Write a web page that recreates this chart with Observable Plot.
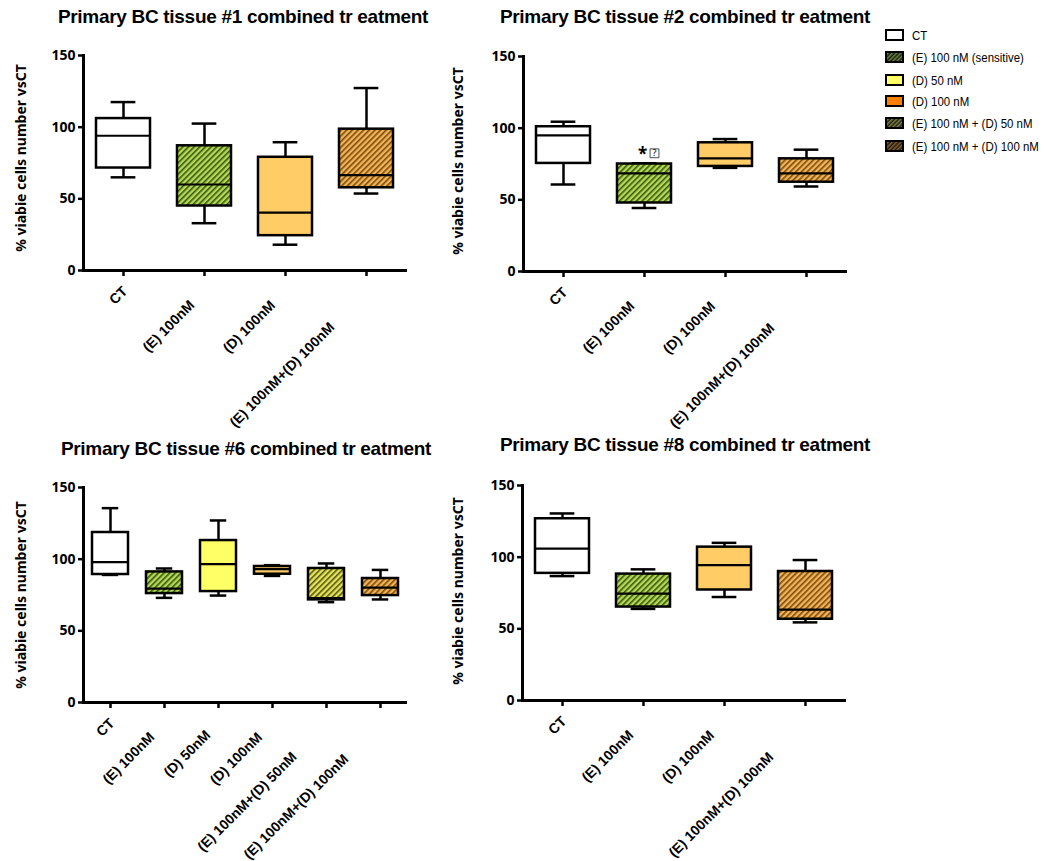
<!DOCTYPE html>
<html>
<head>
<meta charset="utf-8">
<script src="https://cdn.jsdelivr.net/npm/d3@7"></script>
<script src="https://cdn.jsdelivr.net/npm/@observablehq/plot@0.6"></script>
<style>
  body { margin: 0; background: #fff; }
  #page { position: relative; width: 1049px; height: 861px; overflow: hidden; background: #fff;
          font-family: "Liberation Sans", Arial, sans-serif; color: #000; }
  .title { position: absolute; font-weight: bold; font-size: 19px; letter-spacing: -0.3px;
           white-space: nowrap; transform: translateX(-50%); line-height: 22px; }
  .panel { position: absolute; }
  .legend { position: absolute; left: 885px; top: 0; font-family: "Liberation Sans", Arial, sans-serif; font-size: 13px; }
  .legend .row { position: absolute; left: 0; display: flex; align-items: center; white-space: nowrap; height: 14px; }
  .legend .row svg { margin-right: 8px; flex: none; }
  .legend .row span { display: inline-block; transform: scaleX(0.88); transform-origin: left center; }
</style>
</head>
<body>
<div id="page"></div>
<script>
// ---- data: box statistics (min, Q1, median, Q3, max) per treatment ----
const yTitle = "% viabie cells number vsCT";

// tissue #1
const t1Title = "Primary BC tissue #1 combined tr eatment";
const t1Groups = ["CT", "E", "D100", "ED100"];
const t1Labels = ["CT", "(E) 100nM", "(D) 100nM", "(E) 100nM+(D) 100nM"];
const t1Min = [65, 33, 18, 53.7];
const t1Q1 = [71.5, 45, 24.3, 57.7];
const t1Med = [94, 60, 40.4, 66.6];
const t1Q3 = [106, 87, 79, 98.6];
const t1Max = [117.5, 102.5, 89.5, 127.3];

// tissue #2
const t2Title = "Primary BC tissue #2 combined tr eatment";
const t2Groups = ["CT", "E", "D100", "ED100"];
const t2Labels = ["CT", "(E) 100nM", "(D) 100nM", "(E) 100nM+(D) 100nM"];
const t2Min = [60.7, 44.3, 72.3, 59.3];
const t2Q1 = [75.4, 47.8, 73.3, 62.3];
const t2Med = [95, 68.4, 78.9, 68.4];
const t2Q3 = [101, 75, 89.8, 78.6];
const t2Max = [104.5, 75.5, 92.4, 85];

// tissue #6
const t6Title = "Primary BC tissue #6 combined tr eatment";
const t6Groups = ["CT", "E", "D50", "D100", "ED50", "ED100"];
const t6Labels = ["CT", "(E) 100nM", "(D) 50nM", "(D) 100nM", "(E) 100nM+(D) 50nM", "(E) 100nM+(D) 100nM"];
const t6Min = [89, 73, 74.6, 88.3, 70, 71.9];
const t6Q1 = [89.3, 76, 77.4, 89.5, 71.6, 74.6];
const t6Med = [97.9, 79.5, 96.5, 93, 72.8, 80.2];
const t6Q3 = [118.6, 91.1, 113, 94.9, 93.5, 86.5];
const t6Max = [135.6, 93.5, 127, 95.8, 97, 92.5];

// tissue #8
const t8Title = "Primary BC tissue #8 combined tr eatment";
const t8Groups = ["CT", "E", "D100", "ED100"];
const t8Labels = ["CT", "(E) 100nM", "(D) 100nM", "(E) 100nM+(D) 100nM"];
const t8Min = [86.8, 63.9, 72.2, 54.5];
const t8Q1 = [88.7, 65.2, 77.1, 56.7];
const t8Med = [105.9, 74.5, 94.5, 63.4];
const t8Q3 = [126.8, 88.2, 107, 90];
const t8Max = [130.5, 91.5, 110, 98];

// legend entries
const legendKeys = ["CT", "E", "D50", "D100", "ED50", "ED100"];
const legendNames = ["CT", "(E) 100 nM (sensitive)", "(D) 50 nM", "(D) 100 nM", "(E) 100 nM + (D) 50 nM", "(E) 100 nM + (D) 100 nM"];

// ---- fills ----
const boxFill = {
  CT: "#ffffff",
  E: "url(#hatchE)",
  D50: "#ffff66",
  D100: "#ffcc66",
  ED50: "url(#hatchED50)",
  ED100: "url(#hatchED100)"
};
const legendFill = {
  CT: "#ffffff",
  E: "url(#lgE)",
  D50: "#ffff66",
  D100: "#ff8000",
  ED50: "url(#lgED50)",
  ED100: "url(#lgED100)"
};

function hatch(id, base, stripe, size, sw) {
  return `<pattern id="${id}" width="${size}" height="${size}" patternUnits="userSpaceOnUse" patternTransform="rotate(45)">
    <rect width="${size}" height="${size}" fill="${base}"/>
    <line x1="0.8" y1="0" x2="0.8" y2="${size}" stroke="${stripe}" stroke-width="${sw}"/>
  </pattern>`;
}

const page = document.getElementById("page");
page.insertAdjacentHTML("beforeend", `<svg width="0" height="0" style="position:absolute"><defs>
  ${hatch("hatchE", "#b3da55", "#3a5410", 4, 1.6)}
  ${hatch("hatchED50", "#e4e45a", "#55550e", 4, 1.6)}
  ${hatch("hatchED100", "#f2b456", "#7a4a0e", 4, 1.6)}
  ${hatch("lgE", "#1c1c1c", "#9ccc44", 3, 0.9)}
  ${hatch("lgED50", "#1c1c1c", "#c8c850", 3, 0.9)}
  ${hatch("lgED100", "#1c1c1c", "#d88a2a", 3, 0.9)}
</defs></svg>`);

const tickFont = `"Liberation Sans", Arial, sans-serif`;
const measureCtx = document.createElement("canvas").getContext("2d");
measureCtx.font = `bold 14px ${tickFont}`;
const textWidth = s => measureCtx.measureText(s).width;

function panel(cfg) {
  const {groups, labels, min, q1, med, q3, max, left, top, marginLeft, marginTop, marginBottom, labelDx, labelDy, extra} = cfg;
  const rows = groups.map((g, i) => ({g, min: min[i], q1: q1[i], med: med[i], q3: q3[i], max: max[i]}));
  const innerW = 324, innerH = 215, marginRight = 12;
  const bw = innerW / groups.length * 0.67;
  const capInset = bw * 0.27;

  // slanted category labels: the text end slides down the diagonal as the label gets longer
  const tickLabels = rows.map((row, i) => {
    const run = textWidth(labels[i]) * Math.SQRT1_2;
    return Plot.text([row], {
      x: "g", y: () => 0, text: () => labels[i], rotate: -45, textAnchor: "end",
      dx: 7 - 0.415 * run, dy: 13 + 0.415 * run,
      fontSize: 14, fontWeight: "bold", fontFamily: tickFont
    });
  });

  const chart = Plot.plot({
    width: marginLeft + innerW + marginRight,
    height: marginTop + innerH + marginBottom,
    marginLeft, marginRight, marginTop, marginBottom,
    style: {background: "transparent", overflow: "visible"},
    x: {domain: groups, paddingInner: 0.33, paddingOuter: 0.165, label: null},
    y: {domain: [0, 150], label: null},
    color: {type: "identity"},
    marks: [
      Plot.ruleX(rows, {x: "g", y1: "min", y2: "q1", strokeWidth: 2.5}),
      Plot.ruleX(rows, {x: "g", y1: "q3", y2: "max", strokeWidth: 2.5}),
      Plot.tickY(rows, {x: "g", y: "min", insetLeft: capInset, insetRight: capInset, strokeWidth: 2.5}),
      Plot.tickY(rows, {x: "g", y: "max", insetLeft: capInset, insetRight: capInset, strokeWidth: 2.5}),
      Plot.barY(rows, {x: "g", y1: "q1", y2: "q3", fill: d => boxFill[d.g], stroke: "#000", strokeWidth: 2.5}),
      Plot.tickY(rows, {x: "g", y: "med", strokeWidth: 2.2}),
      Plot.axisY({ticks: [0, 50, 100, 150], tickSize: 5, tickPadding: 3, fontSize: 14, fontWeight: "bold",
                  strokeWidth: 2.5, label: null}),
      Plot.axisX({tickSize: 6, strokeWidth: 2.5, tickFormat: () => "", label: null}),
      ...tickLabels,
      Plot.ruleY([0], {strokeWidth: 3}),
      Plot.frame({anchor: "left", strokeWidth: 3}),
      Plot.text([yTitle], {text: d => d, frameAnchor: "left", textAnchor: "middle", rotate: -90,
                           dx: -labelDx, dy: labelDy, fontSize: 14, fontWeight: "bold"}),
      ...(extra ? extra(rows) : [])
    ]
  });
  chart.classList.add("panel");
  chart.style.left = left + "px";
  chart.style.top = top + "px";
  page.appendChild(chart);
}

function title(text, cx, top) {
  const d = document.createElement("div");
  d.className = "title";
  d.textContent = text;
  d.style.left = cx + "px";
  d.style.top = top + "px";
  page.appendChild(d);
}

title(t1Title, 243, 6);
title(t2Title, 685, 6);
title(t6Title, 246, 438);
title(t8Title, 685, 434);

panel({groups: t1Groups, labels: t1Labels, min: t1Min, q1: t1Q1, med: t1Med, q3: t1Q3, max: t1Max,
       left: 0, top: 40, marginLeft: 83, marginTop: 15, marginBottom: 170, labelDx: 62, labelDy: -5});

panel({groups: t2Groups, labels: t2Labels, min: t2Min, q1: t2Q1, med: t2Med, q3: t2Q3, max: t2Max,
       left: 440, top: 40, marginLeft: 83, marginTop: 16, marginBottom: 170, labelDx: 65, labelDy: -3,
       extra: rows => {
         const e = rows.filter(d => d.g === "E");
         return [
           Plot.text(e, {x: "g", y: "max", text: () => "*", dy: -9, dx: -2, fontSize: 17, fontWeight: "bold"}),
           Plot.dot(e, {x: "g", y: "max", symbol: "square", r: 5, dx: 10, dy: -10, fill: "#fff", stroke: "#000", strokeWidth: 0.7}),
           Plot.text(e, {x: "g", y: "max", text: () => "?", dx: 10, dy: -10, fontSize: 9})
         ];
       }});

panel({groups: t6Groups, labels: t6Labels, min: t6Min, q1: t6Q1, med: t6Med, q3: t6Q3, max: t6Max,
       left: 0, top: 470, marginLeft: 83, marginTop: 17, marginBottom: 160, labelDx: 62, labelDy: 0});

panel({groups: t8Groups, labels: t8Labels, min: t8Min, q1: t8Q1, med: t8Med, q3: t8Q3, max: t8Max,
       left: 440, top: 470, marginLeft: 82, marginTop: 15, marginBottom: 160, labelDx: 64, labelDy: -2});

// legend
const legend = document.createElement("div");
legend.className = "legend";
const rowTops = [28, 50, 73, 94, 116, 139];
legendKeys.forEach((k, i) => {
  const r = document.createElement("div");
  r.className = "row";
  r.style.top = rowTops[i] + "px";
  r.innerHTML = `<svg width="19" height="12"><rect x="1" y="1" width="17" height="10" fill="${legendFill[k]}" stroke="#000" stroke-width="2"/></svg><span>${legendNames[i]}</span>`;
  legend.appendChild(r);
});
page.appendChild(legend);
</script>
</body>
</html>
